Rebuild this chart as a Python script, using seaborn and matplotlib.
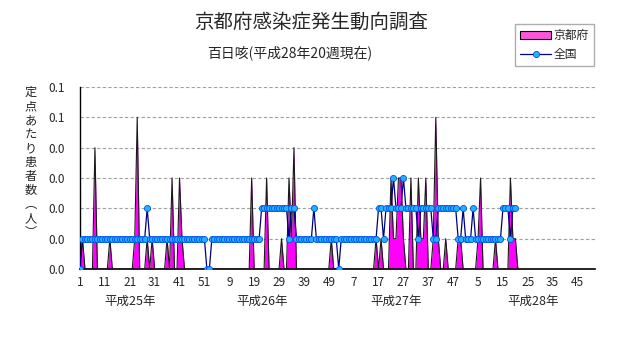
import numpy as np
import pandas as pd
import matplotlib
matplotlib.use("Agg")
import matplotlib.pyplot as plt
import seaborn as sns
from matplotlib.patches import Patch
from matplotlib.lines import Line2D

# ---------------- data ----------------
title = "京都府感染症発生動向調査"
subtitle = "百日咳(平成28年20週現在)"
ylabel_text = "定点あたり患者数︵人︶"
series_names = ["京都府", "全国"]
years = ["平成25年", "平成26年", "平成27年", "平成28年"]
weeks_per_year = [52, 52, 52, 52]
xtick_labels = ["1", "11", "21", "31", "41", "51", "9", "19", "29", "39", "49",
                "7", "17", "27", "37", "47", "5", "15", "25", "35", "45"]
ytick_values = [0.00, 0.01, 0.02, 0.03, 0.04, 0.05, 0.06]
ytick_labels = ["0.0", "0.0", "0.0", "0.0", "0.0", "0.1", "0.1"]

kyoto_2013 = [0, .01, 0, 0, 0, 0, .04, 0, 0, 0,
              0, 0, .01, 0, 0, 0, 0, 0, 0, 0,
              0, 0, .01, .05, 0, 0, 0, .01, 0, .01,
              0, 0, 0, 0, 0, .01, 0, .03, 0, 0,
              .03, .01, 0, 0, 0, 0, 0, 0, 0, 0,
              0, 0]
kyoto_2014 = [0, 0, 0, 0, 0, 0, 0, 0, 0, 0,
              0, 0, 0, 0, 0, 0, 0, .03, 0, 0,
              0, 0, 0, .03, 0, 0, 0, 0, 0, .01,
              0, 0, .03, .01, .04, 0, 0, 0, 0, 0,
              0, 0, 0, 0, 0, 0, 0, 0, 0, .01,
              0, 0]
kyoto_2015 = [0, 0, 0, 0, 0, 0, 0, 0, 0, 0,
              0, 0, 0, 0, 0, .01, 0, .01, 0, 0,
              0, .03, .01, .01, .03, .03, .01, 0, 0, .03,
              0, 0, .03, .01, .01, .03, 0, 0, .01, .05,
              .01, 0, 0, .01, 0, 0, 0, 0, .01, .01,
              0, 0]
kyoto_2016 = [0, 0, 0, 0, .01, .03, 0, 0, 0, 0,
              0, .01, 0, 0, 0, 0, 0, .03, .01, .01]

national_2013 = [0, .01, .01, .01, .01, .01, .01, .01, .01, .01,
                 .01, .01, .01, .01, .01, .01, .01, .01, .01, .01,
                 .01, .01, .01, .01, .01, .01, .01, .02, .01, .01,
                 .01, .01, .01, .01, .01, .01, .01, .01, .01, .01,
                 .01, .01, .01, .01, .01, .01, .01, .01, .01, .01,
                 .01, 0]
national_2014 = [0, .01, .01, .01, .01, .01, .01, .01, .01, .01,
                 .01, .01, .01, .01, .01, .01, .01, .01, .01, .01,
                 .01, .02, .02, .02, .02, .02, .02, .02, .02, .02,
                 .02, .02, .01, .02, .02, .01, .01, .01, .01, .01,
                 .01, .01, .02, .01, .01, .01, .01, .01, .01, .01,
                 .01, .01]
national_2015 = [0, .01, .01, .01, .01, .01, .01, .01, .01, .01,
                 .01, .01, .01, .01, .01, .01, .02, .02, .01, .02,
                 .02, .02, .03, .02, .02, .02, .03, .02, .02, .02,
                 .02, .02, .01, .02, .02, .02, .02, .02, .01, .01,
                 .02, .02, .02, .02, .02, .02, .02, .02, .01, .01,
                 .02, .01]
national_2016 = [.01, .01, .02, .01, .01, .01, .01, .01, .01, .01,
                 .01, .01, .01, .01, .02, .02, .02, .01, .02, .02]

# ---------------- style ----------------
sns.set_style("white")
plt.rcParams['font.family'] = ['Noto Sans CJK JP', 'DejaVu Sans']
plt.rcParams['axes.unicode_minus'] = False

kyoto = np.array(kyoto_2013 + kyoto_2014 + kyoto_2015 + kyoto_2016, dtype=float)
national = np.array(national_2013 + national_2014 + national_2015 + national_2016, dtype=float)
n = len(national)
df = pd.DataFrame({"pos": np.arange(n), "kyoto": kyoto, "national": national})
total_weeks = sum(weeks_per_year)

W, H = 631, 347
fig = plt.figure(figsize=(W / 100, H / 100), dpi=100)
ax = fig.add_axes([80 / W, 1 - 269 / H, 515 / W, 182 / H])

# Kyoto area (blank cell after the last week plotted as zero)
area_x = np.append(df["pos"].values, n)
area_y = np.append(df["kyoto"].values, 0.0)
ax.fill_between(area_x, area_y, 0, color="#ff00ff", lw=0, zorder=2)
ax.plot(area_x, area_y, color="#1a1a1a", lw=0.8, zorder=3)

# National line
sns.lineplot(data=df, x="pos", y="national", ax=ax, color="#000080", lw=0.9,
             marker="o", markersize=4.4, markerfacecolor="#22b0ff",
             markeredgecolor="#0050f0", markeredgewidth=0.6, zorder=4,
             legend=False)

ax.set_xlim(0, total_weeks - 1)
ax.set_ylim(0, 0.06)
ax.set_xlabel("")
ax.set_ylabel("")

ax.set_xticks(np.arange(0, total_weeks, 10))
ax.set_xticklabels(xtick_labels)
ax.set_xticks(np.arange(5, total_weeks, 10), minor=True)
ax.tick_params(axis="x", which="both", direction="in", length=3, width=0.8,
               color="black", labelsize=8.5, pad=5)
ax.set_yticks(ytick_values)
ax.set_yticklabels(ytick_labels)
ax.tick_params(axis="y", length=0, labelsize=8.5, pad=11)

ax.yaxis.grid(True, color="#a0a0a0", linestyle=(0, (3, 2)), lw=0.8)
ax.xaxis.grid(False)
for s in ["top", "right"]:
    ax.spines[s].set_visible(False)
ax.spines["left"].set_color("black")
ax.spines["bottom"].set_color("black")
ax.spines["left"].set_linewidth(1.0)
ax.spines["bottom"].set_linewidth(1.2)
ax.set_facecolor("white")

# Year labels under the axis
year_pos = [20, 73, 127, 182]
for yp, yl in zip(year_pos, years):
    ax.text(yp, -32 / 182, yl, ha="center", va="center", fontsize=9,
            transform=ax.get_xaxis_transform(), clip_on=False)

# Titles
fig.text(311 / W, 1 - 22 / H, title, ha="center", va="center", fontsize=14)
fig.text(290 / W, 1 - 53 / H, subtitle, ha="center", va="center", fontsize=10)

# Vertical y label
fig.text(31 / W, 1 - 86 / H, "\n".join(ylabel_text), ha="center", va="top",
         fontsize=8.8, linespacing=1.1)

# Legend
handles = [Patch(facecolor="#ff55dd", edgecolor="black", lw=0.8),
           Line2D([], [], color="#000080", lw=0.9, marker="o", markersize=4.4,
                  markerfacecolor="#22b0ff", markeredgecolor="#0050f0",
                  markeredgewidth=0.6)]
fig.legend(handles, series_names, loc="upper left",
           bbox_to_anchor=(515 / W, 1 - 24 / H), frameon=True, fancybox=False,
           edgecolor="#999999", fontsize=8.5, handlelength=2.6, handleheight=0.6,
           borderpad=0.45, labelspacing=0.45, handletextpad=0.2,
           borderaxespad=0)

fig.savefig("out.png", dpi=100)
